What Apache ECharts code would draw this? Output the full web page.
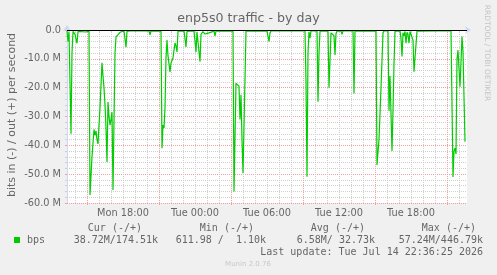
<!DOCTYPE html>
<html>
<head>
<meta charset="utf-8">
<title>enp5s0 traffic - by day</title>
<script src="https://cdn.jsdelivr.net/npm/echarts@6/dist/echarts.min.js"></script>
<style>
    html, body { margin: 0; padding: 0; background: #f0f0f0; }
    #main { width: 497px; height: 275px; }
</style>
</head>
<body>
<div id="main"></div>
<script>
// sample time, minutes since Mon 00:00 (5 min steps)
var sampleMinutes = [
    800, 805, 810, 820, 825, 830, 840, 850, 855, 865, 895, 900, 910, 915, 925, 935, 940, 945, 950, 955,
    960, 965, 975, 980, 985, 990, 995, 1000, 1005, 1010, 1015, 1020, 1025, 1030, 1040, 1045, 1055, 1065, 1070, 1085,
    1095, 1100, 1115, 1210, 1215, 1220, 1270, 1275, 1280, 1285, 1290, 1295, 1300, 1305, 1315, 1320, 1325, 1330, 1335, 1340,
    1345, 1350, 1355, 1385, 1395, 1400, 1435, 1445, 1450, 1455, 1465, 1470, 1480, 1490, 1500, 1510, 1520, 1535, 1540, 1545,
    1630, 1635, 1645, 1655, 1660, 1665, 1670, 1675, 1680, 1690, 1695, 1750, 1755, 1760, 1800, 1810, 1815, 1820, 1955, 1960,
    1965, 1990, 1995, 2000, 2005, 2010, 2015, 2020, 2050, 2055, 2060, 2065, 2105, 2110, 2115, 2120, 2130, 2135, 2140, 2145,
    2150, 2170, 2175, 2180, 2230, 2235, 2240, 2345, 2350, 2360, 2370, 2380, 2385, 2405, 2410, 2415, 2425, 2430, 2435, 2440,
    2465, 2470, 2475, 2480, 2485, 2490, 2495, 2500, 2505, 2510, 2515, 2525, 2530, 2535, 2540, 2550, 2650, 2655, 2660, 2720,
    2730, 2735, 2740, 2745, 2750, 2755, 2765, 2775, 2780, 2790
];
// bits in, Mbit/s (drawn negative)
var bitsIn = [
    -0.3, -4, -0.5, -36, -8, -0.5, -1.5, -4.6, -0.5, -0.3, -0.7, -0.2, -0.3, -57.2, -44, -34.5, -36.5, -35, -38, -39.5,
    -33, -27, -11.4, -16, -20, -26, -34, -45.8, -25, -30, -33, -31, -28.5, -55.5, -8, -2.4, -2.4, -0.8, -0.3, -0.3,
    -6, -0.5, -0.3, -0.3, -1.7, -0.3, -0.4, -41, -33, -34, -27, -9.7, -3.5, -9, -14.5, -11.5, -12, -9.7, -7, -4.5,
    -5.5, -7.6, -0.4, -0.3, -5.9, -0.5, -0.3, -7.6, -0.6, -0.5, -11, -1.5, -0.6, -1.4, -0.8, -1, -0.5, -0.4, -2, -0.4,
    -0.3, -56, -18.5, -18.8, -19.5, -31, -22.5, -38, -49.7, -17, -0.4, -0.3, -0.9, -0.3, -0.4, -4, -1, -0.3, -0.3, -0.6,
    -0.3, -0.3, -18, -50.9, -8, -0.6, -2.8, -0.3, -0.3, -24.9, -8, -0.4, -0.3, -20, -20.3, -1, -0.8, -2, -8.7, -1.2,
    -0.4, -0.3, -1.5, -0.3, -0.3, -22, -0.4, -0.3, -46.8, -38, -20, -1, -0.3, -0.3, -28, -16, -42, -28, -12, -0.4,
    -0.3, -3, -9.2, -1, -2, -0.5, -4.6, -0.8, -1.5, -4.6, -0.5, -1, -3.5, -14.5, -9.7, -0.4, -0.3, -0.8, -0.3, -0.3,
    -51, -42, -41, -43, -10, -7, -19.7, -2.3, -7.5, -38.72
];

var tickMinutes = [1080, 1440, 1800, 2160, 2520];
var tickLabels = ['Mon 18:00', 'Tue 00:00', 'Tue 06:00', 'Tue 12:00', 'Tue 18:00'];
var majorGridMinutes = [900, 1260, 1620, 1980, 2340, 2700];

var legendHeads = ['Cur (-/+)', 'Min (-/+)', 'Avg (-/+)', 'Max (-/+)'];
var legendValues = ['38.72M/174.51k', '611.98 /  1.10k', '6.58M/ 32.73k', '57.24M/446.79k'];

// hourly grid lines, without the 6-hourly ones
var minorGridMinutes = [];
for (var m = 840; m <= 2760; m += 60) {
    if (majorGridMinutes.indexOf(m) < 0) minorGridMinutes.push(m);
}

var points = sampleMinutes.map(function (t, i) {
    return [t, bitsIn[i]];
});

var fontColor = '#666';
var axisColor = '#CFD6F8';
var minorColor = '#d0d0d0';
var majorColor = '#f0a0a0';

var myChart = echarts.init(document.getElementById('main'), null, {renderer: 'canvas'});

var legendX = [142, 254, 365, 476];
var valueX = [158, 266, 375, 483];
var graphics = [
    {
        type: 'text', x: 248.5, y: 19,
        style: {text: 'enp5s0 traffic - by day', font: '12.6px "DejaVu Sans"', fill: fontColor, align: 'center', verticalAlign: 'middle'}
    },
    {
        type: 'text', x: 12, y: 115, rotation: Math.PI / 2,
        style: {text: 'bits in (-) / out (+) per second', font: '11px "DejaVu Sans"', fill: fontColor, align: 'center', verticalAlign: 'middle'}
    },
    {
        type: 'text', x: 487, y: 53, rotation: -Math.PI / 2,
        style: {text: 'RRDTOOL / TOBI OETIKER', font: '7.5px "DejaVu Sans"', fill: '#c4c4c4', align: 'center', verticalAlign: 'middle'}
    },
    {
        type: 'rect', shape: {x: 14, y: 237, width: 6, height: 6},
        style: {fill: '#00CC00'}
    },
    {
        type: 'text', x: 27, y: 240,
        style: {text: 'bps', font: '10px "DejaVu Sans Mono"', fill: fontColor, align: 'left', verticalAlign: 'middle'}
    },
    {
        type: 'text', x: 483, y: 252,
        style: {text: 'Last update: Tue Jul 14 22:36:25 2026', font: '10px "DejaVu Sans Mono"', fill: fontColor, align: 'right', verticalAlign: 'middle'}
    },
    {
        type: 'text', x: 248, y: 264,
        style: {text: 'Munin 2.0.76', font: '7px "DejaVu Sans"', fill: '#c8c8c8', align: 'center', verticalAlign: 'middle'}
    }
];
legendHeads.forEach(function (h, i) {
    graphics.push({
        type: 'text', x: legendX[i], y: 228,
        style: {text: h, font: '10px "DejaVu Sans Mono"', fill: fontColor, align: 'right', verticalAlign: 'middle'}
    });
    graphics.push({
        type: 'text', x: valueX[i], y: 240,
        style: {text: legendValues[i], font: '10px "DejaVu Sans Mono"', fill: fontColor, align: 'right', verticalAlign: 'middle'}
    });
});

function gridLines(list, color) {
    return {
        silent: true,
        z: 1,
        symbol: ['none', 'none'],
        label: {show: false},
        lineStyle: {color: color, width: 1, type: 'dotted'},
        data: list.map(function (v) {
            return {xAxis: v};
        })
    };
}

var option = {
    backgroundColor: '#f0f0f0',
    animation: false,
    grid: {
        left: 67,
        right: 30,
        top: 30,
        bottom: 72,
        show: true,
        backgroundColor: '#fff',
        borderWidth: 0
    },
    xAxis: [
        {
            type: 'value', min: 800, max: 2800, position: 'bottom', offset: 0,
            axisLine: {show: true, lineStyle: {color: axisColor}, symbol: ['none', 'arrow'], symbolSize: [6, 6], symbolOffset: [0, 4]},
            axisTick: {show: true, length: 2, customValues: minorGridMinutes, lineStyle: {color: minorColor}},
            axisLabel: {show: false},
            splitLine: {show: false}
        },
        {
            type: 'value', min: 800, max: 2800, position: 'bottom', offset: 0,
            axisLine: {show: false},
            axisTick: {show: true, length: 2, customValues: majorGridMinutes, lineStyle: {color: majorColor}},
            axisLabel: {show: false},
            splitLine: {show: false}
        },
        {
            type: 'value', min: 800, max: 2800, position: 'bottom', offset: 0,
            axisLine: {show: false},
            axisTick: {show: false},
            splitLine: {show: false},
            axisLabel: {
                show: true,
                customValues: tickMinutes,
                margin: 5,
                color: fontColor,
                fontFamily: 'DejaVu Sans',
                fontSize: 9.75,
                formatter: function (v) {
                    return tickLabels[tickMinutes.indexOf(v)];
                }
            }
        }
    ],
    yAxis: {
        type: 'value',
        min: -60,
        max: 0,
        interval: 10,
        axisLine: {show: true, lineStyle: {color: axisColor}, symbol: ['none', 'arrow'], symbolSize: [6, 6], symbolOffset: [0, 5]},
        axisTick: {show: true, length: 2, lineStyle: {color: majorColor}},
        minorTick: {show: true, splitNumber: 5, length: 2, lineStyle: {color: minorColor}},
        minorSplitLine: {show: true, lineStyle: {color: minorColor, type: 'dotted'}},
        splitLine: {show: true, lineStyle: {color: majorColor, type: 'dotted'}},
        axisLabel: {
            color: fontColor,
            fontFamily: 'DejaVu Sans',
            fontSize: 9.75,
            margin: 6,
            formatter: function (v) {
                return v === 0 ? '0.0' : v.toFixed(1) + ' M';
            }
        }
    },
    series: [
        {
            name: 'hour grid',
            type: 'line',
            xAxisIndex: 0,
            data: [],
            z: 1,
            silent: true,
            markLine: gridLines(minorGridMinutes, minorColor)
        },
        {
            name: '6h grid',
            type: 'line',
            xAxisIndex: 0,
            data: [],
            z: 1,
            silent: true,
            markLine: gridLines(majorGridMinutes, majorColor)
        },
        {
            name: 'bps',
            type: 'line',
            xAxisIndex: 0,
            data: points,
            z: 3,
            showSymbol: false,
            symbol: 'none',
            lineStyle: {color: '#00CC00', width: 1.2},
            markLine: {
                silent: true,
                z: 5,
                symbol: ['none', 'none'],
                label: {show: false},
                lineStyle: {color: '#000', width: 1, type: 'solid'},
                data: [{yAxis: 0}]
            }
        }
    ],
    graphic: graphics
};
myChart.setOption(option);
</script>
</body>
</html>
